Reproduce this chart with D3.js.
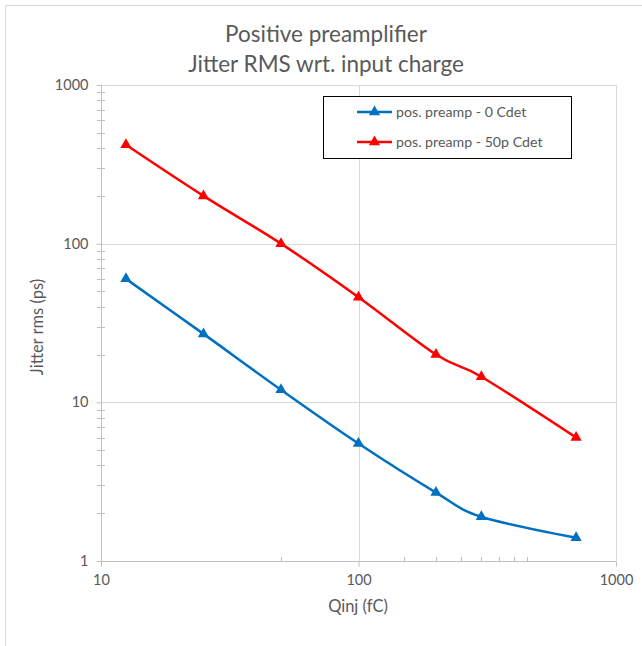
<!DOCTYPE html>
<html>
<head>
<meta charset="utf-8">
<script src="https://cdn.jsdelivr.net/npm/d3@7"></script>
<style>
  body { margin: 0; background: #fff; }
  text { font-family: Lato, "Open Sans", sans-serif; fill: #595959; }
</style>
</head>
<body>
<script>
// data
const qinj = [12.5, 25, 50, 100, 200, 300, 700];
const jitter0 = [60, 27, 12, 5.5, 2.7, 1.9, 1.4];
const jitter50 = [420, 200, 100, 46, 20, 14.5, 6];
const seriesNames = ["pos. preamp - 0 Cdet", "pos. preamp - 50p Cdet"];
const seriesColors = ["#0070C0", "#FF0000"];
const xTicks = [10, 100, 1000];
const yTicks = [1, 10, 100, 1000];
const xMinorTicks = [50, 150, 200, 250, 300, 350, 400, 450];

const width = 642, height = 646;
const plotLeft = 101, plotRight = 616, plotTop = 85, plotBottom = 561;

const svg = d3.select("body")
  .append("svg")
  .attr("width", width)
  .attr("height", height);

// chart area border
svg.append("rect")
  .attr("x", 5.5).attr("y", 5.5)
  .attr("width", 650).attr("height", 660)
  .attr("fill", "none")
  .attr("stroke", "#d9d9d9");

const x = d3.scaleLog().domain([10, 1000]).range([plotLeft, plotRight]);
const y = d3.scaleLog().domain([1, 1000]).range([plotBottom, plotTop]);

// gridlines
svg.append("g")
  .selectAll("line")
  .data(yTicks.slice(1))
  .enter()
  .append("line")
  .attr("x1", plotLeft).attr("x2", plotRight)
  .attr("y1", d => Math.round(y(d)) + 0.5)
  .attr("y2", d => Math.round(y(d)) + 0.5)
  .attr("stroke", "#d9d9d9");

svg.append("g")
  .selectAll("line")
  .data(xTicks.slice(1))
  .enter()
  .append("line")
  .attr("y1", plotTop).attr("y2", plotBottom)
  .attr("x1", d => Math.round(x(d)) + 0.5)
  .attr("x2", d => Math.round(x(d)) + 0.5)
  .attr("stroke", "#d9d9d9");

// y minor ticks (2..9 each decade)
const yMinor = y.ticks().filter(d => !yTicks.includes(d));
svg.append("g")
  .selectAll("line")
  .data(yMinor)
  .enter()
  .append("line")
  .attr("x1", plotLeft - 4).attr("x2", plotLeft + 4)
  .attr("y1", d => Math.round(y(d)) + 0.5)
  .attr("y2", d => Math.round(y(d)) + 0.5)
  .attr("stroke", "#bfbfbf");

// x minor ticks
svg.append("g")
  .selectAll("line")
  .data(xMinorTicks)
  .enter()
  .append("line")
  .attr("y1", plotBottom - 4).attr("y2", plotBottom)
  .attr("x1", d => Math.round(x(d)) + 0.5)
  .attr("x2", d => Math.round(x(d)) + 0.5)
  .attr("stroke", "#bfbfbf");

// axes
const yAxis = d3.axisLeft(y)
  .tickValues(yTicks)
  .tickFormat(d3.format("d"))
  .tickSize(5)
  .tickPadding(8);
const gy = svg.append("g")
  .attr("transform", `translate(${plotLeft + 0.5},0)`)
  .call(yAxis);

const xAxis = d3.axisBottom(x)
  .tickValues(xTicks)
  .tickFormat(d3.format("d"))
  .tickSize(5)
  .tickPadding(8);
const gx = svg.append("g")
  .attr("transform", `translate(0,${plotBottom + 0.5})`)
  .call(xAxis);

[gy, gx].forEach(g => {
  g.select(".domain").attr("stroke", "#bfbfbf");
  g.selectAll(".tick line").attr("stroke", "#bfbfbf");
  g.selectAll(".tick text")
    .attr("fill", "#595959")
    .style("font-family", "Lato, sans-serif")
    .style("font-size", "14.5px");
});
gy.select(".domain").attr("d", `M0,${plotTop}V${plotBottom}`);
gx.select(".domain").attr("d", `M${plotLeft},0H${plotRight}`);

// series
const series = [jitter0, jitter50];
const line = d3.line()
  .x(d => x(d[0]))
  .y(d => y(d[1]))
  .curve(d3.curveCardinal);
const symbol = d3.symbol().type(d3.symbolTriangle).size(55);

series.forEach((vals, i) => {
  const pts = qinj.map((q, j) => [q, vals[j]]);
  svg.append("path")
    .datum(pts)
    .attr("d", line)
    .attr("fill", "none")
    .attr("stroke", seriesColors[i])
    .attr("stroke-width", 2.5);
  svg.append("g")
    .selectAll("path")
    .data(pts)
    .enter()
    .append("path")
    .attr("d", symbol)
    .attr("transform", d => `translate(${x(d[0])},${y(d[1])})`)
    .attr("fill", seriesColors[i]);
});

// title
svg.append("text")
  .attr("x", 326).attr("y", 42)
  .attr("text-anchor", "middle")
  .style("font-size", "22.5px")
  .text("Positive preamplifier");
svg.append("text")
  .attr("x", 326).attr("y", 72)
  .attr("text-anchor", "middle")
  .style("font-size", "22.5px")
  .text("Jitter RMS wrt. input charge");

// axis titles
svg.append("text")
  .attr("x", 358).attr("y", 612)
  .attr("text-anchor", "middle")
  .style("font-size", "16.5px")
  .text("Qinj (fC)");
svg.append("text")
  .attr("transform", "translate(43,327) rotate(-90)")
  .attr("text-anchor", "middle")
  .style("font-size", "16.5px")
  .text("Jitter rms (ps)");

// legend
const legend = svg.append("g");
legend.append("rect")
  .attr("x", 323.5).attr("y", 96.5)
  .attr("width", 248).attr("height", 62)
  .attr("fill", "#fff")
  .attr("stroke", "#000");
seriesNames.forEach((name, i) => {
  const ly = 112 + i * 30;
  legend.append("line")
    .attr("x1", 357).attr("x2", 392)
    .attr("y1", ly).attr("y2", ly)
    .attr("stroke", seriesColors[i])
    .attr("stroke-width", 2.5);
  legend.append("path")
    .attr("d", symbol)
    .attr("transform", `translate(374.5,${ly})`)
    .attr("fill", seriesColors[i]);
  legend.append("text")
    .attr("x", 396).attr("y", ly + 5)
    .style("font-size", "14.2px")
    .text(name);
});
</script>
</body>
</html>
